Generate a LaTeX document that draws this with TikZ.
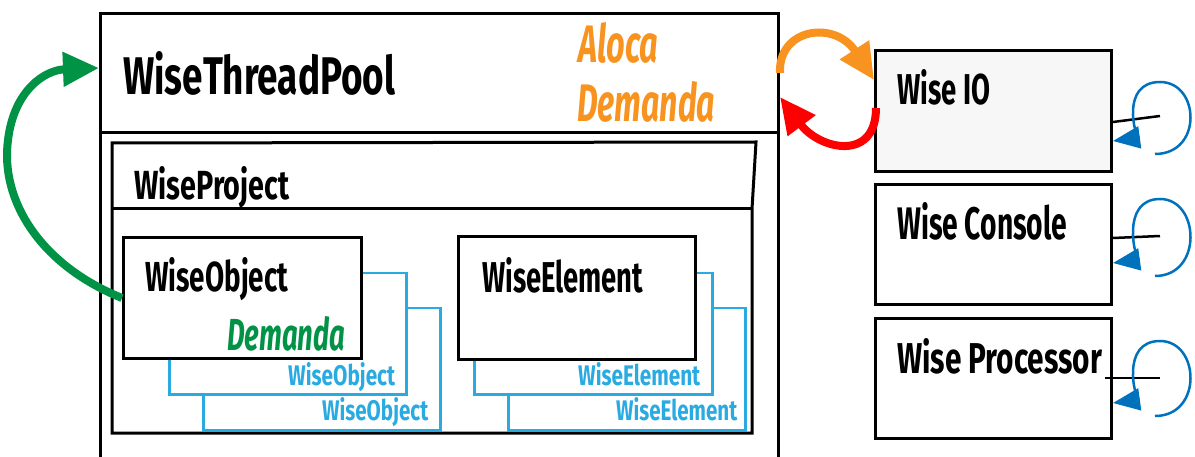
\documentclass[tikz,border=0pt]{standalone}
\usepackage{fontspec}
\setmainfont{Fira Sans}
\usetikzlibrary{arrows.meta}
\definecolor{demandOrange}{HTML}{F7931E}
\definecolor{demandGreen}{HTML}{009245}
\definecolor{copyBlue}{HTML}{29ABE2}
\definecolor{loopBlue}{HTML}{0071BC}
\definecolor{backRed}{HTML}{FF0000}
% condensed label: width, height (above baseline), text
\newcommand{\lbl}[3]{\resizebox{#1pt}{#2pt}{\bfseries #3}}
\newcommand{\ilbl}[3]{\resizebox{#1pt}{#2pt}{\bfseries\itshape #3}}
\tikzset{
  box/.style={draw=black, line width=3pt, fill=white, inner sep=0pt, anchor=north west},
  copybox/.style={draw=copyBlue, line width=2.5pt, fill=white, inner sep=0pt, anchor=north west},
  txt/.style={inner sep=0pt, anchor=base west},
  flow/.style={line width=8pt, -{Triangle[length=36pt,width=33pt]}},
  selfloop/.style={draw=loopBlue, line width=2.5pt, -{Triangle[length=27pt,width=22pt]}},
  tick/.style={draw=black, line width=2.5pt}
}
\begin{document}
\begin{tikzpicture}[x=1pt,y=-1pt]
\useasboundingbox (0,0) rectangle (1195,457);

% thread pool frame (runs past the lower edge)
\node[box, minimum width=678pt, minimum height=480pt] (tp) at (99,12) {};
\draw[line width=3pt] (99,133) -- (777,133);
\node[txt] (tpname) at (123,95) {\lbl{272}{43}{WiseThreadPool}};
\node[txt, text=demandOrange] (aloca) at (578,63) {\ilbl{80}{40}{Aloca}};
\node[txt, text=demandOrange] (dem1) at (577,122) {\ilbl{138}{40}{Demanda}};

% project container with header
\draw[line width=3pt, fill=white] (112,143) -- (756,142) -- (752,209) -- (752,433) -- (112,433) -- cycle;
\draw[line width=3pt] (112,209) -- (752,209);
\node[txt] (prj) at (134,200) {\lbl{155}{33}{WiseProject}};

% object stack
\node[copybox, minimum width=237pt, minimum height=122pt] (obj2) at (202,307) {};
\node[txt, text=copyBlue] at (322,420) {\lbl{106}{23}{WiseObject}};
\node[copybox, minimum width=237pt, minimum height=121pt] (obj1) at (168,272) {};
\node[txt, text=copyBlue] at (288,385) {\lbl{107}{23}{WiseObject}};
\node[box, minimum width=238pt, minimum height=121pt] (obj) at (122,236) {};
\node[txt] at (145,292) {\lbl{143}{34}{WiseObject}};
\node[txt, text=demandGreen] (dem2) at (227,351) {\ilbl{118}{34}{Demanda}};

% element stack
\node[copybox, minimum width=237pt, minimum height=122pt] (el2) at (507,307) {};
\node[txt, text=copyBlue] at (616,420) {\lbl{121}{23}{WiseElement}};
\node[copybox, minimum width=238pt, minimum height=121pt] (el1) at (473,272) {};
\node[txt, text=copyBlue] at (578,385) {\lbl{122}{23}{WiseElement}};
\node[box, minimum width=237pt, minimum height=123pt] (el) at (457,235) {};
\node[txt] at (482,293) {\lbl{161}{35}{WiseElement}};

% services on the right
\node[box, fill=black!3, minimum width=236pt, minimum height=121pt] (io) at (874,49) {};
\node[txt] at (897,105) {\lbl{93}{35}{Wise IO}};
\node[box, minimum width=236pt, minimum height=120pt] (con) at (874,183) {};
\node[txt] at (897,240) {\lbl{170}{37}{Wise Console}};
\node[box, minimum width=236pt, minimum height=120pt] (proc) at (874,317) {};
\node[txt] at (897,373) {\lbl{205}{35}{Wise Processor}};

% demand from the object back to the pool
\coordinate (gS) at (obj.west |- 0,298);
\coordinate (gE) at (tp.west |- 0,68);
\draw[flow, demandGreen] (gS) .. controls (40,265) and (0,200) .. (8,140)
  .. controls (14,90) and (45,70) .. (gE);

% pool <-> IO exchange
\coordinate (oS) at (tp.east |- 0,73);
\coordinate (oE) at (io.west |- 0,80);
\draw[flow, demandOrange] (oS) .. controls (778,28) and (835,20) .. (oE);
\coordinate (rS) at (876,108);
\coordinate (rE) at (tp.east |- 0,97);
\draw[flow, backRed] (rS) .. controls (876,162) and (820,150) .. (rE);

% self loops of the services
\draw[tick] (io.east |- 0,122) -- (1160,116);
\draw[selfloop] (1155,154) .. controls (1203,154) and (1200,82) .. (1160,82)
  .. controls (1120,82) and (1135,138) .. (io.east |- 0,141);
\draw[tick] (con.east |- 0,238) -- (1160,236);
\draw[selfloop] (1155,276) .. controls (1203,276) and (1200,199) .. (1160,199)
  .. controls (1120,199) and (1135,260) .. (con.east |- 0,263);
\draw[tick] (1105,378) -- (1160,378);
\draw[selfloop] (1155,416) .. controls (1203,416) and (1200,341) .. (1160,341)
  .. controls (1120,341) and (1135,400) .. (proc.east |- 0,403);
\end{tikzpicture}
\end{document}
